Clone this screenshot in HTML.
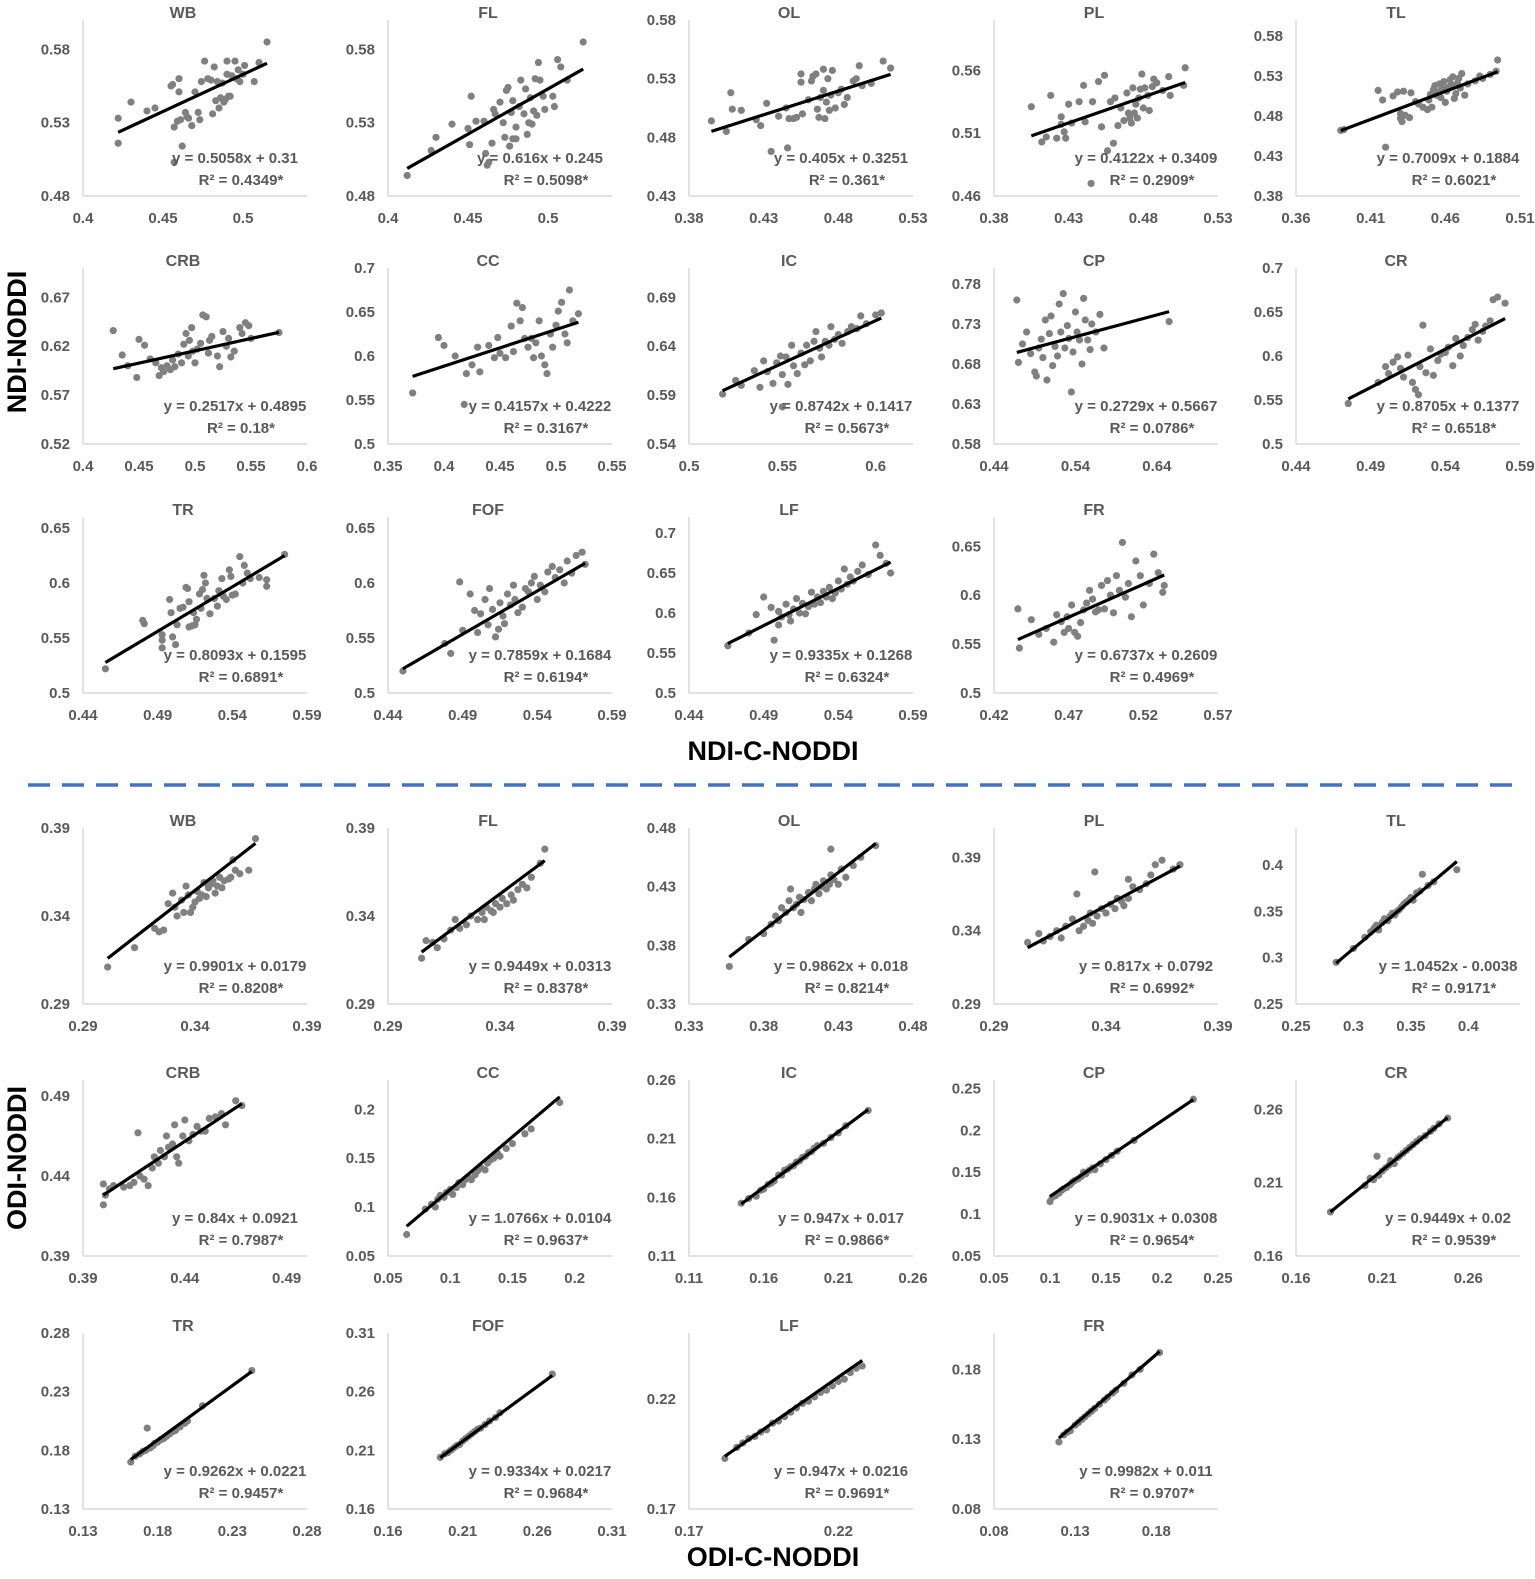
<!DOCTYPE html>
<html><head><meta charset="utf-8">
<style>
html,body{margin:0;padding:0;background:#fff;}
svg{display:block;font-family:"Liberation Sans",sans-serif;}
.tick{font-size:15px;font-weight:bold;fill:#595959;}
.ttl{font-size:16px;font-weight:bold;fill:#595959;}
.eq{font-size:15px;font-weight:bold;fill:#595959;}
.axt{font-size:27px;font-weight:bold;fill:#000;}
</style></head>
<body>
<svg id="fig" width="1535" height="1579" viewBox="0 0 1535 1579">
<rect x="0" y="0" width="1535" height="1579" fill="#fff"/>
<text class="axt" transform="translate(26,342) rotate(-90)" text-anchor="middle">NDI-NODDI</text>
<text class="axt" x="773" y="760" text-anchor="middle">NDI-C-NODDI</text>
<line x1="28" y1="785" x2="1522" y2="785" stroke="#4472C4" stroke-width="3.5" stroke-dasharray="22,12"/>
<text class="axt" transform="translate(26,1158) rotate(-90)" text-anchor="middle">ODI-NODDI</text>
<text class="axt" x="773" y="1566" text-anchor="middle">ODI-C-NODDI</text>
</svg>
<script>
// ---- data (x = C-NODDI, y = NODDI) ----
const ndiWbX=[.422,.422,.43,.44,.445,.455,.456,.457,.457,.459,.46,.46,.461,.462,.464,.465,.466,.468,.47,.472,.473,.474,.476,.478,.48,.481,.482,.483,.484,.485,.486,.487,.488,.489,.49,.49,.491,.492,.493,.495,.496,.497,.498,.5,.501,.507,.51,.515];
const ndiWbY=[.533,.516,.544,.538,.540,.555,.556,.527,.503,.531,.560,.551,.532,.514,.537,.534,.533,.528,.551,.537,.532,.558,.572,.560,.559,.536,.568,.545,.558,.540,.547,.557,.544,.546,.572,.563,.548,.548,.562,.572,.560,.566,.558,.563,.569,.558,.571,.585];
const ndiFlX=[.412,.427,.43,.44,.45,.451,.452,.455,.46,.461,.462,.463,.465,.466,.467,.47,.472,.473,.474,.475,.476,.477,.478,.478,.48,.48,.482,.483,.485,.486,.487,.488,.489,.49,.491,.492,.493,.494,.495,.497,.498,.503,.504,.506,.508,.512,.522];
const ndiFlY=[.494,.511,.520,.529,.526,.515,.548,.531,.531,.509,.501,.503,.516,.539,.536,.544,.530,.520,.552,.554,.514,.537,.519,.545,.519,.527,.541,.559,.536,.553,.522,.530,.547,.529,.538,.560,.535,.571,.559,.548,.539,.548,.541,.573,.568,.559,.585];
const ndiOlX=[.395,.405,.408,.409,.415,.425,.428,.432,.435,.44,.445,.446,.447,.45,.452,.455,.455,.456,.46,.462,.463,.465,.466,.467,.468,.47,.47,.471,.472,.473,.474,.475,.476,.478,.48,.482,.484,.486,.49,.492,.494,.496,.502,.51,.515];
const ndiOlY=[.494,.485,.518,.504,.503,.495,.490,.509,.468,.498,.505,.471,.496,.496,.497,.534,.527,.500,.512,.528,.532,.534,.504,.497,.514,.538,.520,.496,.510,.530,.503,.516,.537,.505,.518,.521,.508,.514,.528,.530,.541,.524,.526,.545,.539];
const ndiPlX=[.405,.412,.415,.418,.422,.425,.425,.427,.428,.43,.432,.437,.44,.441,.445,.446,.45,.452,.454,.456,.458,.46,.461,.463,.465,.467,.469,.47,.471,.472,.473,.474,.475,.476,.477,.478,.479,.48,.481,.483,.484,.486,.487,.489,.493,.497,.498,.508,.507];
const ndiPlY=[.531,.503,.507,.540,.506,.517,.523,.511,.506,.533,.518,.535,.548,.519,.470,.535,.551,.515,.556,.496,.535,.502,.538,.516,.530,.520,.542,.526,.522,.518,.546,.526,.533,.522,.538,.545,.557,.530,.546,.540,.528,.547,.553,.550,.544,.555,.540,.562,.548];
const ndiTlX=[.39,.392,.415,.418,.42,.425,.428,.43,.43,.431,.432,.433,.436,.437,.44,.442,.445,.448,.449,.45,.451,.452,.453,.454,.455,.456,.457,.458,.459,.46,.461,.462,.463,.464,.465,.466,.467,.468,.469,.47,.471,.473,.475,.48,.483,.485,.49,.495,.494];
const ndiTlY=[.462,.463,.512,.500,.441,.505,.510,.483,.477,.473,.511,.481,.478,.509,.498,.495,.491,.488,.500,.507,.491,.513,.518,.506,.510,.520,.503,.515,.523,.497,.511,.516,.525,.519,.529,.502,.508,.521,.527,.515,.533,.506,.520,.524,.530,.527,.532,.550,.536];
const ndiCrbX=[.427,.435,.44,.448,.45,.455,.46,.465,.468,.47,.472,.475,.478,.48,.482,.485,.488,.49,.492,.494,.495,.497,.498,.5,.502,.505,.507,.51,.512,.513,.515,.52,.522,.525,.528,.53,.532,.535,.54,.542,.545,.548,.55,.575];
const ndiCrbY=[.636,.611,.600,.588,.627,.621,.607,.603,.590,.598,.594,.600,.596,.606,.599,.612,.603,.622,.633,.610,.626,.639,.615,.603,.617,.623,.652,.650,.613,.626,.630,.610,.599,.635,.620,.628,.609,.615,.639,.633,.644,.641,.628,.634];
const ndiCcX=[.372,.395,.4,.41,.418,.42,.425,.43,.432,.44,.445,.448,.45,.455,.46,.462,.465,.468,.47,.472,.475,.478,.48,.482,.485,.487,.49,.492,.495,.497,.5,.502,.505,.508,.51,.512,.515,.52];
const ndiCcY=[.558,.621,.612,.600,.545,.580,.590,.610,.582,.612,.598,.621,.603,.598,.634,.605,.660,.640,.655,.620,.610,.620,.598,.615,.640,.600,.590,.580,.625,.610,.635,.651,.661,.625,.615,.675,.640,.648];
const ndiIcX=[.518,.525,.528,.535,.538,.54,.542,.545,.547,.549,.55,.552,.553,.555,.556,.558,.56,.562,.563,.565,.567,.568,.57,.571,.573,.575,.576,.578,.58,.582,.585,.587,.59,.592,.595,.6,.603,.55];
const ndiIcY=[.591,.605,.600,.615,.598,.625,.614,.602,.623,.630,.611,.629,.601,.641,.620,.612,.633,.621,.641,.625,.645,.655,.638,.629,.645,.641,.660,.647,.652,.643,.655,.660,.658,.671,.663,.672,.674,.578];
const ndiCpX=[.468,.47,.475,.48,.485,.49,.492,.495,.498,.5,.503,.505,.508,.51,.512,.515,.518,.52,.522,.525,.527,.53,.532,.535,.537,.54,.542,.545,.548,.55,.552,.555,.558,.56,.565,.57,.575,.655];
const ndiCpY=[.760,.682,.705,.720,.693,.670,.665,.700,.711,.688,.735,.660,.718,.740,.678,.702,.690,.755,.720,.768,.700,.728,.712,.645,.695,.745,.720,.710,.680,.762,.735,.710,.698,.730,.720,.742,.700,.733];
const ndiCrX=[.475,.495,.5,.502,.505,.508,.51,.512,.515,.518,.52,.522,.523,.525,.527,.53,.532,.535,.537,.54,.542,.545,.547,.55,.552,.555,.558,.56,.562,.565,.567,.57,.572,.575,.58];
const ndiCrY=[.546,.570,.588,.580,.593,.599,.586,.576,.601,.570,.562,.556,.588,.635,.581,.608,.578,.595,.602,.604,.610,.589,.620,.600,.612,.621,.630,.636,.618,.628,.634,.640,.664,.667,.660];
const ndiTrX=[.455,.48,.481,.493,.493,.493,.498,.499,.5,.502,.503,.505,.507,.509,.51,.511,.511,.513,.514,.515,.516,.518,.519,.52,.521,.522,.523,.525,.528,.53,.531,.533,.534,.536,.538,.539,.54,.542,.545,.547,.548,.55,.552,.558,.563,.563,.575];
const ndiTrY=[.522,.566,.563,.553,.548,.541,.585,.573,.551,.544,.562,.577,.578,.596,.595,.583,.560,.561,.573,.562,.567,.590,.577,.594,.607,.600,.586,.572,.586,.579,.593,.604,.588,.585,.612,.606,.589,.590,.624,.600,.616,.609,.604,.605,.603,.597,.626];
const ndiFofX=[.45,.478,.482,.488,.49,.495,.498,.5,.502,.505,.507,.508,.51,.512,.514,.515,.517,.518,.52,.522,.524,.525,.527,.53,.532,.534,.536,.538,.54,.542,.545,.547,.55,.552,.555,.558,.56,.563,.566,.57,.572];
const ndiFofY=[.520,.545,.536,.601,.557,.590,.575,.555,.572,.585,.562,.595,.576,.551,.558,.582,.570,.563,.590,.580,.598,.585,.573,.578,.595,.592,.600,.606,.585,.598,.592,.610,.615,.605,.612,.600,.620,.609,.625,.628,.617];
const ndiLfX=[.466,.48,.485,.49,.495,.497,.5,.5,.502,.505,.507,.508,.51,.512,.514,.516,.518,.52,.522,.524,.526,.528,.53,.532,.534,.536,.538,.54,.542,.544,.546,.548,.55,.553,.556,.56,.565,.568,.575,.572];
const ndiLfY=[.559,.575,.598,.620,.607,.566,.585,.602,.595,.611,.598,.590,.605,.618,.600,.612,.599,.608,.626,.611,.620,.613,.627,.620,.632,.618,.625,.640,.630,.655,.636,.645,.640,.652,.660,.648,.685,.672,.650,.662];
const ndiFrX=[.436,.437,.445,.45,.455,.46,.462,.465,.467,.469,.47,.472,.474,.476,.478,.48,.482,.484,.486,.488,.49,.492,.494,.496,.498,.5,.502,.504,.506,.508,.51,.512,.515,.518,.52,.524,.527,.53,.533,.534];
const ndiFrY=[.586,.546,.575,.560,.566,.552,.580,.573,.562,.578,.566,.590,.562,.558,.572,.585,.592,.605,.596,.583,.585,.610,.586,.615,.600,.582,.620,.605,.654,.598,.612,.578,.635,.620,.590,.612,.642,.623,.603,.610];
const odiWbX=[.301,.313,.322,.324,.326,.328,.33,.331,.332,.334,.335,.336,.337,.338,.339,.34,.341,.342,.343,.344,.345,.346,.347,.348,.349,.35,.351,.352,.353,.355,.356,.357,.358,.36,.364,.367];
const odiWbY=[.311,.322,.333,.331,.332,.347,.353,.345,.340,.349,.342,.357,.352,.342,.345,.348,.354,.350,.352,.359,.351,.356,.358,.360,.353,.357,.362,.356,.360,.361,.362,.372,.366,.364,.366,.384];
const odiFlX=[.305,.307,.31,.312,.315,.318,.32,.322,.325,.327,.33,.332,.334,.336,.338,.34,.341,.343,.345,.346,.348,.35,.352,.354,.358,.36,.337,.333];
const odiFlY=[.316,.326,.325,.322,.327,.332,.338,.333,.335,.340,.338,.342,.345,.343,.347,.345,.350,.347,.352,.349,.355,.358,.356,.362,.370,.378,.342,.338];
const odiOlX=[.357,.37,.38,.385,.388,.39,.392,.395,.397,.398,.4,.402,.404,.405,.407,.41,.412,.414,.415,.417,.419,.42,.422,.424,.425,.427,.43,.432,.435,.44,.445,.425,.455];
const odiOlY=[.362,.385,.390,.398,.405,.401,.412,.408,.418,.428,.412,.415,.421,.408,.419,.425,.418,.428,.432,.424,.430,.435,.428,.432,.440,.436,.432,.445,.438,.448,.455,.462,.465];
const odiPlX=[.305,.31,.312,.315,.318,.32,.322,.325,.327,.328,.33,.332,.333,.334,.335,.336,.338,.34,.342,.344,.345,.347,.348,.35,.352,.355,.358,.36,.362,.365,.37,.373,.35];
const odiPlY=[.332,.338,.333,.336,.340,.335,.343,.348,.365,.340,.343,.347,.352,.345,.380,.350,.355,.352,.358,.355,.362,.360,.357,.362,.370,.368,.372,.378,.385,.388,.382,.385,.375];
const odiTlX=[.285,.3,.31,.315,.318,.32,.322,.325,.327,.33,.332,.334,.336,.338,.34,.342,.344,.346,.348,.35,.352,.355,.358,.36,.365,.37,.39];
const odiTlY=[.295,.310,.322,.328,.332,.335,.330,.338,.342,.340,.345,.348,.346,.350,.352,.355,.358,.360,.362,.365,.362,.370,.372,.390,.378,.382,.395];
const odiCrbX=[.40,.40,.401,.403,.405,.41,.413,.415,.417,.418,.42,.422,.424,.425,.427,.428,.43,.431,.432,.434,.435,.436,.437,.439,.44,.442,.444,.446,.448,.45,.452,.455,.458,.46,.465,.468];
const odiCrbY=[.422,.435,.428,.432,.434,.433,.434,.436,.467,.440,.438,.434,.445,.452,.448,.456,.452,.465,.458,.460,.472,.452,.448,.465,.475,.462,.466,.471,.468,.468,.476,.477,.479,.472,.487,.484];
const odiCcX=[.065,.08,.085,.088,.09,.092,.095,.097,.1,.102,.105,.107,.11,.112,.115,.117,.12,.122,.125,.128,.13,.132,.135,.138,.14,.145,.15,.16,.165,.188];
const odiCcY=[.072,.098,.103,.100,.108,.112,.110,.115,.118,.113,.120,.125,.123,.128,.130,.128,.133,.137,.140,.138,.145,.148,.150,.155,.152,.160,.165,.175,.180,.207];
const odiIcX=[.145,.15,.155,.158,.16,.163,.165,.167,.17,.172,.174,.176,.178,.18,.182,.184,.186,.188,.19,.192,.194,.196,.2,.205,.21,.215,.23];
const odiIcY=[.155,.159,.161,.166,.167,.171,.172,.174,.179,.179,.183,.184,.186,.187,.190,.191,.194,.195,.198,.199,.202,.204,.206,.211,.215,.221,.234];
const odiCpX=[.1,.102,.105,.108,.11,.112,.115,.118,.12,.122,.125,.128,.13,.132,.135,.138,.14,.145,.15,.155,.16,.175,.228];
const odiCpY=[.115,.120,.122,.125,.128,.130,.132,.135,.138,.140,.142,.145,.150,.148,.152,.155,.153,.160,.165,.170,.175,.188,.237];
const odiCrX=[.18,.2,.203,.205,.207,.208,.21,.212,.214,.215,.217,.219,.22,.222,.224,.226,.228,.23,.232,.235,.238,.24,.243,.248];
const odiCrY=[.190,.208,.213,.212,.228,.215,.218,.220,.222,.225,.223,.227,.228,.230,.232,.234,.236,.238,.240,.242,.245,.247,.250,.254];
const odiTrX=[.162,.165,.168,.17,.172,.173,.175,.177,.178,.18,.182,.184,.186,.188,.19,.192,.195,.198,.2,.21,.243];
const odiTrY=[.170,.175,.177,.179,.180,.199,.182,.184,.186,.187,.189,.190,.192,.194,.196,.197,.200,.203,.205,.218,.248];
const odiFofX=[.195,.198,.2,.202,.204,.206,.208,.21,.212,.214,.216,.218,.22,.222,.225,.228,.232,.235,.27];
const odiFofY=[.204,.207,.208,.210,.212,.214,.215,.218,.220,.222,.224,.226,.228,.229,.232,.235,.238,.242,.275];
const odiLfX=[.182,.186,.188,.19,.192,.194,.196,.198,.2,.202,.204,.206,.208,.21,.212,.214,.216,.218,.22,.222,.224,.226,.228];
const odiLfY=[.193,.198,.200,.202,.203,.205,.206,.209,.210,.212,.214,.216,.218,.219,.221,.223,.224,.226,.228,.229,.232,.234,.235];
const odiFrX=[.12,.123,.125,.127,.13,.132,.134,.136,.138,.14,.142,.145,.148,.15,.153,.155,.16,.165,.17,.182];
const odiFrY=[.128,.133,.135,.136,.140,.142,.144,.146,.148,.150,.152,.155,.158,.160,.163,.165,.170,.176,.180,.192];

const panelTitles=["WB","FL","OL","PL","TL","CRB","CC","IC","CP","CR","TR","FOF","LF","FR",
                   "WB","FL","OL","PL","TL","CRB","CC","IC","CP","CR","TR","FOF","LF","FR"];
const slopes=[0.5058,0.616,0.405,0.4122,0.7009,0.2517,0.4157,0.8742,0.2729,0.8705,0.8093,0.7859,0.9335,0.6737,
              0.9901,0.9449,0.9862,0.817,1.0452,0.84,1.0766,0.947,0.9031,0.9449,0.9262,0.9334,0.947,0.9982];
const intercepts=[0.31,0.245,0.3251,0.3409,0.1884,0.4895,0.4222,0.1417,0.5667,0.1377,0.1595,0.1684,0.1268,0.2609,
              0.0179,0.0313,0.018,0.0792,-0.0038,0.0921,0.0104,0.017,0.0308,0.02,0.0221,0.0217,0.0216,0.011];
const eqLabels=["y = 0.5058x + 0.31","y = 0.616x + 0.245","y = 0.405x + 0.3251","y = 0.4122x + 0.3409","y = 0.7009x + 0.1884",
 "y = 0.2517x + 0.4895","y = 0.4157x + 0.4222","y = 0.8742x + 0.1417","y = 0.2729x + 0.5667","y = 0.8705x + 0.1377",
 "y = 0.8093x + 0.1595","y = 0.7859x + 0.1684","y = 0.9335x + 0.1268","y = 0.6737x + 0.2609",
 "y = 0.9901x + 0.0179","y = 0.9449x + 0.0313","y = 0.9862x + 0.018","y = 0.817x + 0.0792","y = 1.0452x - 0.0038",
 "y = 0.84x + 0.0921","y = 1.0766x + 0.0104","y = 0.947x + 0.017","y = 0.9031x + 0.0308","y = 0.9449x + 0.02",
 "y = 0.9262x + 0.0221","y = 0.9334x + 0.0217","y = 0.947x + 0.0216","y = 0.9982x + 0.011"];
const r2Labels=["0.4349","0.5098","0.361","0.2909","0.6021","0.18","0.3167","0.5673","0.0786","0.6518","0.6891","0.6194","0.6324","0.4969",
 "0.8208","0.8378","0.8214","0.6992","0.9171","0.7987","0.9637","0.9866","0.9654","0.9539","0.9457","0.9684","0.9691","0.9707"];
const xTickLabels=[
 ["0.4","0.45","0.5"],["0.4","0.45","0.5"],["0.38","0.43","0.48","0.53"],["0.38","0.43","0.48","0.53"],["0.36","0.41","0.46","0.51"],
 ["0.4","0.45","0.5","0.55","0.6"],["0.35","0.4","0.45","0.5","0.55"],["0.5","0.55","0.6"],["0.44","0.54","0.64"],["0.44","0.49","0.54","0.59"],
 ["0.44","0.49","0.54","0.59"],["0.44","0.49","0.54","0.59"],["0.44","0.49","0.54","0.59"],["0.42","0.47","0.52","0.57"],
 ["0.29","0.34","0.39"],["0.29","0.34","0.39"],["0.33","0.38","0.43","0.48"],["0.29","0.34","0.39"],["0.25","0.3","0.35","0.4"],
 ["0.39","0.44","0.49"],["0.05","0.1","0.15","0.2"],["0.11","0.16","0.21","0.26"],["0.05","0.1","0.15","0.2","0.25"],["0.16","0.21","0.26"],
 ["0.13","0.18","0.23","0.28"],["0.16","0.21","0.26","0.31"],["0.17","0.22"],["0.08","0.13","0.18"]];
const yTickLabels=[
 ["0.48","0.53","0.58"],["0.48","0.53","0.58"],["0.43","0.48","0.53","0.58"],["0.46","0.51","0.56"],["0.38","0.43","0.48","0.53","0.58"],
 ["0.52","0.57","0.62","0.67"],["0.5","0.55","0.6","0.65","0.7"],["0.54","0.59","0.64","0.69"],["0.58","0.63","0.68","0.73","0.78"],["0.5","0.55","0.6","0.65","0.7"],
 ["0.5","0.55","0.6","0.65"],["0.5","0.55","0.6","0.65"],["0.5","0.55","0.6","0.65","0.7"],["0.5","0.55","0.6","0.65"],
 ["0.29","0.34","0.39"],["0.29","0.34","0.39"],["0.33","0.38","0.43","0.48"],["0.29","0.34","0.39"],["0.25","0.3","0.35","0.4"],
 ["0.39","0.44","0.49"],["0.05","0.1","0.15","0.2"],["0.11","0.16","0.21","0.26"],["0.05","0.1","0.15","0.2","0.25"],["0.16","0.21","0.26"],
 ["0.13","0.18","0.23","0.28"],["0.16","0.21","0.26","0.31"],["0.17","0.22"],["0.08","0.13","0.18"]];
const xMax=[.54,.54,.53,.53,.51,.6,.55,.62,.715,.59,.59,.59,.59,.57,.39,.39,.48,.39,.445,.5,.23,.26,.25,.29,.28,.31,.245,.218];
const yMax=[.6,.6,.58,.6,.6,.7,.7,.72,.8,.7,.66,.66,.72,.68,.39,.39,.48,.41,.44,.5,.23,.26,.26,.28,.28,.31,.25,.206];
const xsAll=[ndiWbX,ndiFlX,ndiOlX,ndiPlX,ndiTlX,ndiCrbX,ndiCcX,ndiIcX,ndiCpX,ndiCrX,ndiTrX,ndiFofX,ndiLfX,ndiFrX,
 odiWbX,odiFlX,odiOlX,odiPlX,odiTlX,odiCrbX,odiCcX,odiIcX,odiCpX,odiCrX,odiTrX,odiFofX,odiLfX,odiFrX];
const ysAll=[ndiWbY,ndiFlY,ndiOlY,ndiPlY,ndiTlY,ndiCrbY,ndiCcY,ndiIcY,ndiCpY,ndiCrY,ndiTrY,ndiFofY,ndiLfY,ndiFrY,
 odiWbY,odiFlY,odiOlY,odiPlY,odiTlY,odiCrbY,odiCcY,odiIcY,odiCpY,odiCrY,odiTrY,odiFofY,odiLfY,odiFrY];

// ---- layout ----
const colLeft=[83,388,689,994,1296];
const rowTop=[20,268,517,828,1080,1333];
const PW=224, PH=176;
const NS="http://www.w3.org/2000/svg";
const svg=document.getElementById('fig');
function mk(tag,attrs,parent){const e=document.createElementNS(NS,tag);for(const k in attrs)e.setAttribute(k,attrs[k]);parent.appendChild(e);return e;}

for(let i=0;i<28;i++){
  const sec=i<14?0:1, k=i%14, r=sec*3+Math.floor(k/5), c=k%5;
  const L=colLeft[c], T=rowTop[r], B=T+PH, R=L+PW;
  const x0=parseFloat(xTickLabels[i][0]), x1=xMax[i];
  const y0=parseFloat(yTickLabels[i][0]), y1=yMax[i];
  const sx=v=>L+(v-x0)/(x1-x0)*PW;
  const sy=v=>B-(v-y0)/(y1-y0)*PH;
  const tag=(sec?'odi-':'ndi-')+panelTitles[i].toLowerCase();
  const g=mk('g',{},svg);
  
  
  const t=mk('text',{x:L+100,y:T-2,'text-anchor':'middle',class:'ttl'},g);
  t.textContent=panelTitles[i];
  
  
  const ya=mk('line',{x1:L,y1:T,x2:L,y2:B,stroke:'#d9d9d9','stroke-width':1.5},g);
  
  
  const xa=mk('line',{x1:L,y1:B,x2:R,y2:B,stroke:'#d9d9d9','stroke-width':1.5},g);
  
  
  xTickLabels[i].forEach(s=>{
    const e=mk('text',{x:sx(parseFloat(s)),y:B+27,'text-anchor':'middle',class:'tick'},g);
    e.textContent=s;
    
    
  });
  yTickLabels[i].forEach(s=>{
    const e=mk('text',{x:L-13,y:sy(parseFloat(s))+5,'text-anchor':'end',class:'tick'},g);
    e.textContent=s;
    
    
  });
  const xs=xsAll[i], ys=ysAll[i];
  for(let j=0;j<xs.length;j++){
    const p=mk('circle',{cx:sx(xs[j]),cy:sy(ys[j]),r:3.6,fill:'#808080'},g);
    
    
  }
  const mn=Math.min(...xs), mx=Math.max(...xs);
  const ln=mk('line',{x1:sx(mn),y1:sy(slopes[i]*mn+intercepts[i]),x2:sx(mx),y2:sy(slopes[i]*mx+intercepts[i]),stroke:'#000','stroke-width':3.2},g);
  
  
  const eq=mk('text',{x:L+152,y:B-33,'text-anchor':'middle',class:'eq'},g);
  eq.textContent=eqLabels[i];
  
  
  const r2=mk('text',{x:L+158,y:B-11,'text-anchor':'middle',class:'eq'},g);
  r2.textContent='R\u00B2 = '+r2Labels[i]+'*';
  
  
}
</script>
</body></html>
